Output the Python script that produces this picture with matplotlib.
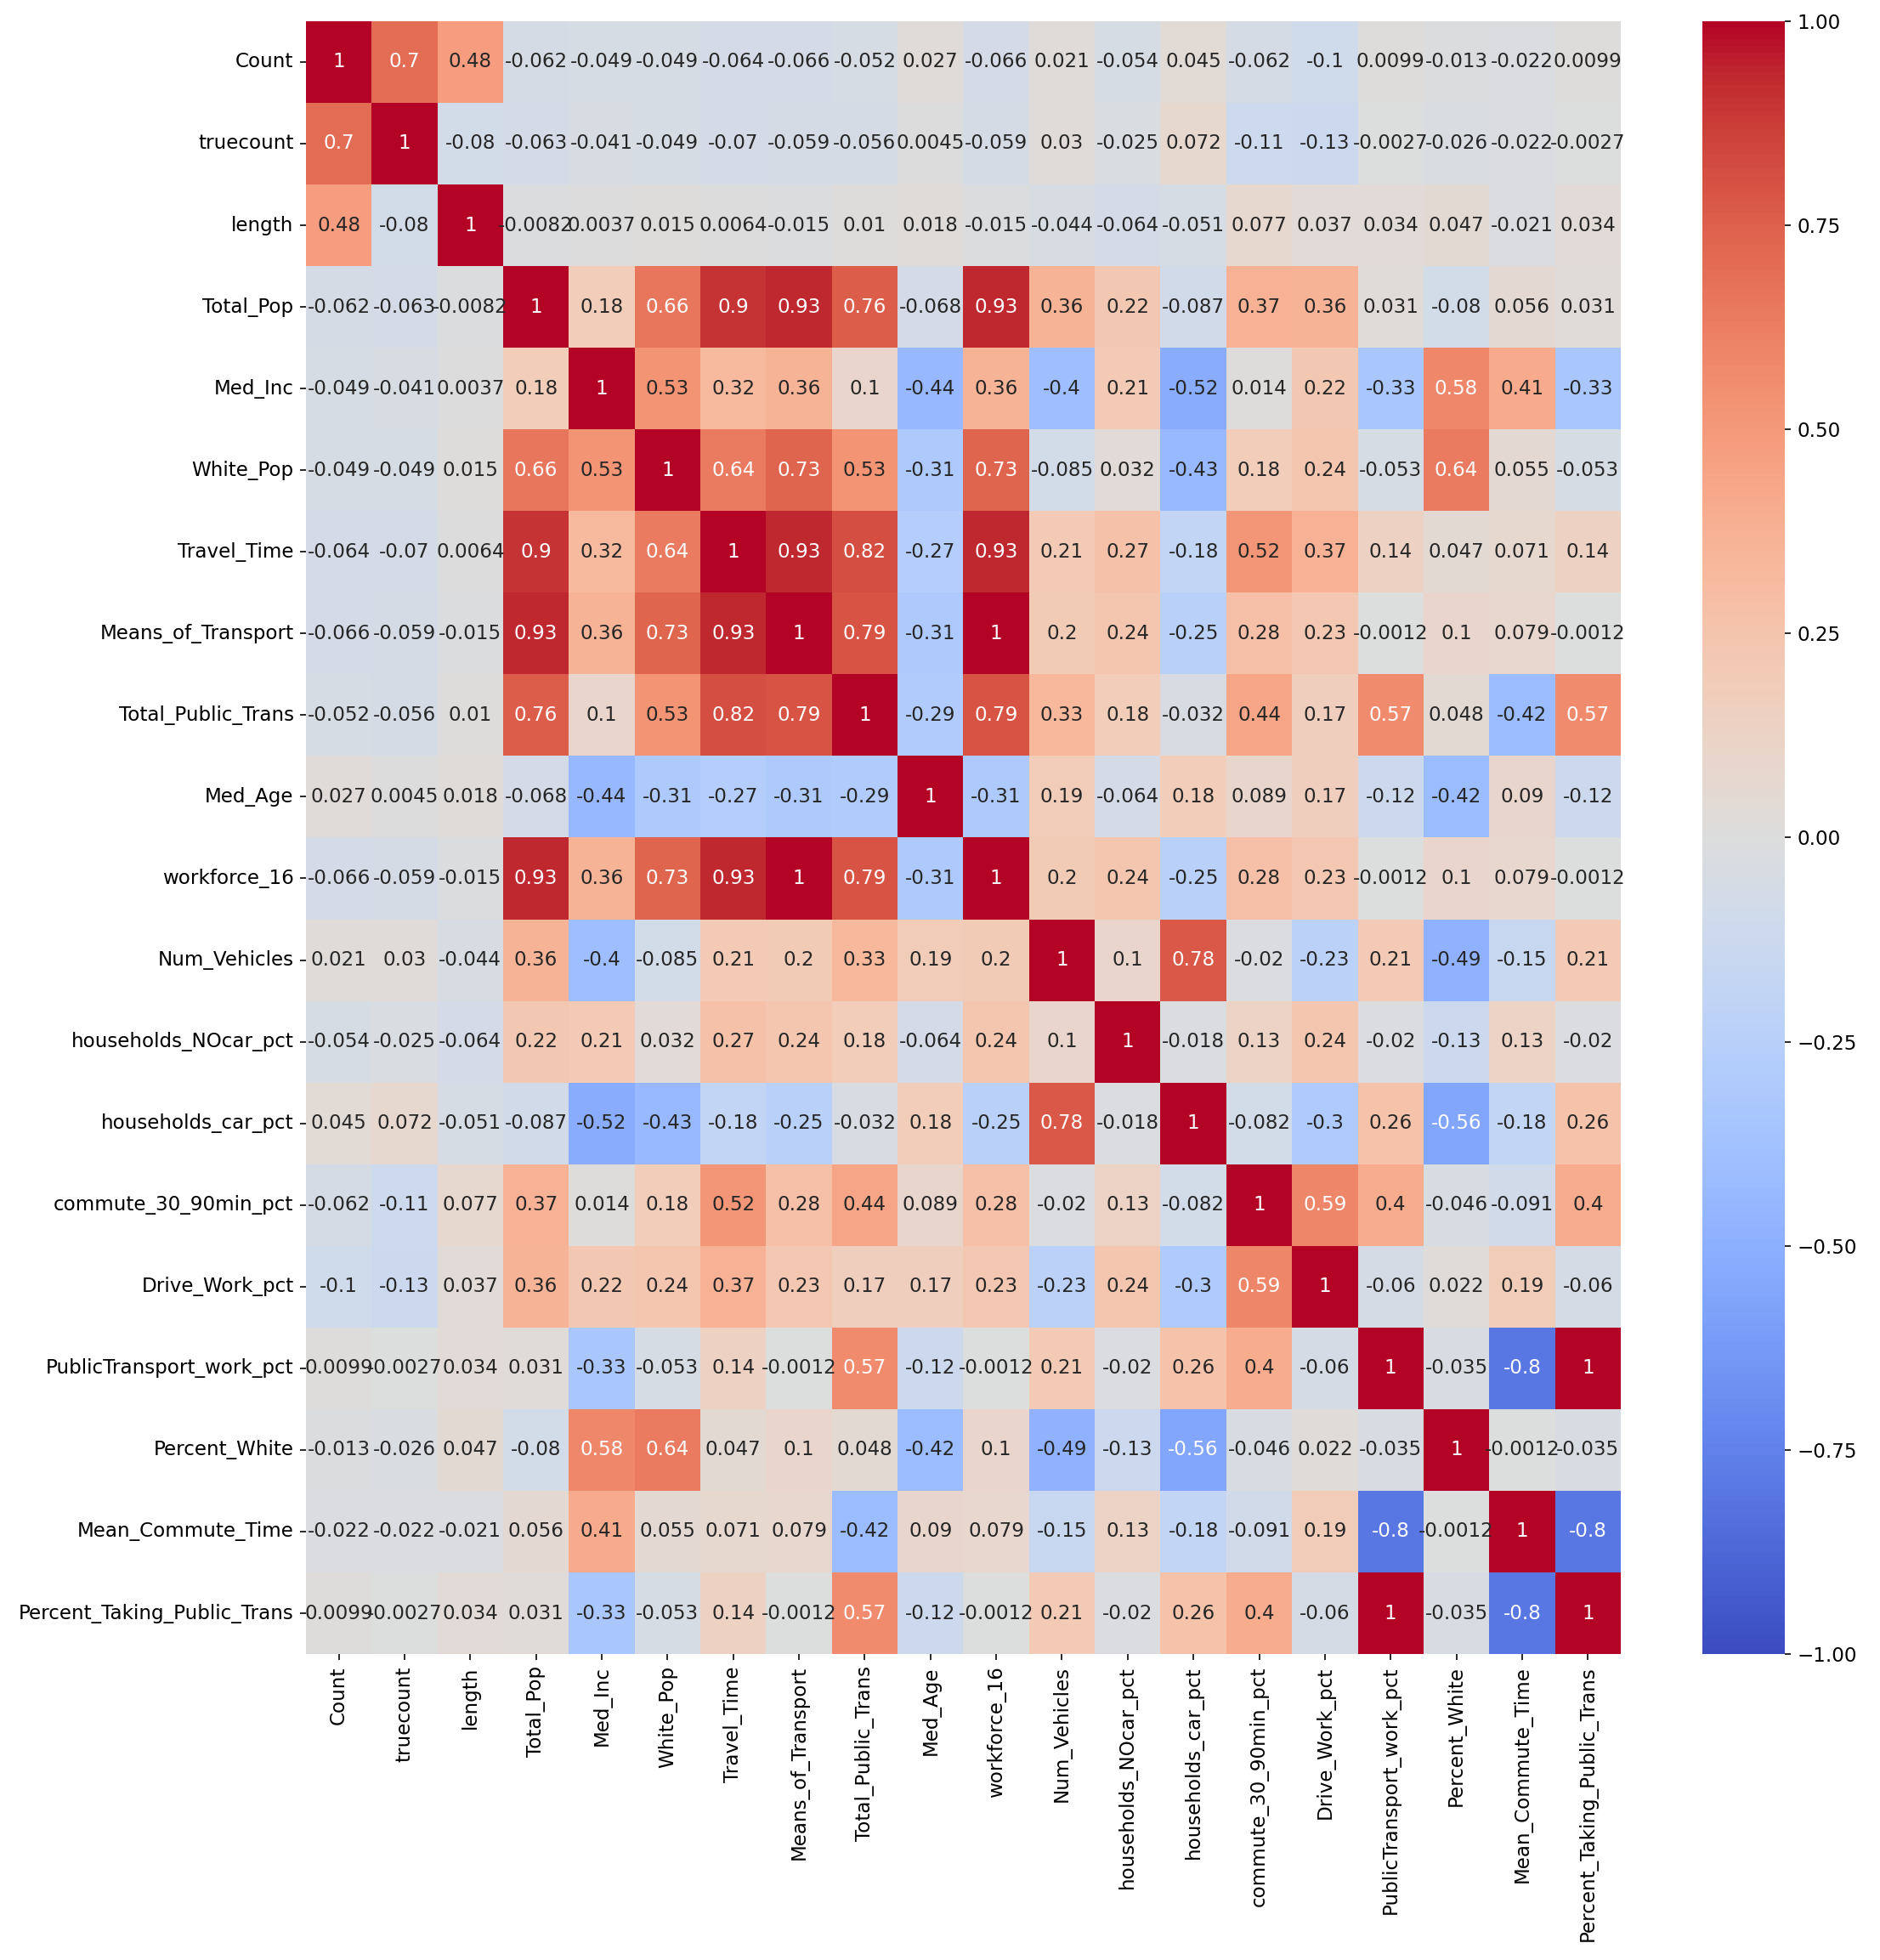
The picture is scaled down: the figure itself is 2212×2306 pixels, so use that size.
import matplotlib
matplotlib.use("Agg")
import matplotlib.pyplot as plt
import numpy as np
import pandas as pd
import seaborn as sns

labels = ["Count", "truecount", "length", "Total_Pop", "Med_Inc", "White_Pop",
          "Travel_Time", "Means_of_Transport", "Total_Public_Trans", "Med_Age",
          "workforce_16", "Num_Vehicles", "households_NOcar_pct",
          "households_car_pct", "commute_30_90min_pct", "Drive_Work_pct",
          "PublicTransport_work_pct", "Percent_White", "Mean_Commute_Time",
          "Percent_Taking_Public_Trans"]

count = [1, 0.7, 0.48, -0.062, -0.049, -0.049, -0.064, -0.066, -0.052, 0.027, -0.066, 0.021, -0.054, 0.045, -0.062, -0.1, 0.0099, -0.013, -0.022, 0.0099]
truecount = [0.7, 1, -0.08, -0.063, -0.041, -0.049, -0.07, -0.059, -0.056, 0.0045, -0.059, 0.03, -0.025, 0.072, -0.11, -0.13, -0.0027, -0.026, -0.022, -0.0027]
length = [0.48, -0.08, 1, -0.0082, 0.0037, 0.015, 0.0064, -0.015, 0.01, 0.018, -0.015, -0.044, -0.064, -0.051, 0.077, 0.037, 0.034, 0.047, -0.021, 0.034]
total_pop = [-0.062, -0.063, -0.0082, 1, 0.18, 0.66, 0.9, 0.93, 0.76, -0.068, 0.93, 0.36, 0.22, -0.087, 0.37, 0.36, 0.031, -0.08, 0.056, 0.031]
med_inc = [-0.049, -0.041, 0.0037, 0.18, 1, 0.53, 0.32, 0.36, 0.1, -0.44, 0.36, -0.4, 0.21, -0.52, 0.014, 0.22, -0.33, 0.58, 0.41, -0.33]
white_pop = [-0.049, -0.049, 0.015, 0.66, 0.53, 1, 0.64, 0.73, 0.53, -0.31, 0.73, -0.085, 0.032, -0.43, 0.18, 0.24, -0.053, 0.64, 0.055, -0.053]
travel_time = [-0.064, -0.07, 0.0064, 0.9, 0.32, 0.64, 1, 0.93, 0.82, -0.27, 0.93, 0.21, 0.27, -0.18, 0.52, 0.37, 0.14, 0.047, 0.071, 0.14]
means_transport = [-0.066, -0.059, -0.015, 0.93, 0.36, 0.73, 0.93, 1, 0.79, -0.31, 1, 0.2, 0.24, -0.25, 0.28, 0.23, -0.0012, 0.1, 0.079, -0.0012]
total_public = [-0.052, -0.056, 0.01, 0.76, 0.1, 0.53, 0.82, 0.79, 1, -0.29, 0.79, 0.33, 0.18, -0.032, 0.44, 0.17, 0.57, 0.048, -0.42, 0.57]
med_age = [0.027, 0.0045, 0.018, -0.068, -0.44, -0.31, -0.27, -0.31, -0.29, 1, -0.31, 0.19, -0.064, 0.18, 0.089, 0.17, -0.12, -0.42, 0.09, -0.12]
workforce = [-0.066, -0.059, -0.015, 0.93, 0.36, 0.73, 0.93, 1, 0.79, -0.31, 1, 0.2, 0.24, -0.25, 0.28, 0.23, -0.0012, 0.1, 0.079, -0.0012]
num_vehicles = [0.021, 0.03, -0.044, 0.36, -0.4, -0.085, 0.21, 0.2, 0.33, 0.19, 0.2, 1, 0.1, 0.78, -0.02, -0.23, 0.21, -0.49, -0.15, 0.21]
nocar = [-0.054, -0.025, -0.064, 0.22, 0.21, 0.032, 0.27, 0.24, 0.18, -0.064, 0.24, 0.1, 1, -0.018, 0.13, 0.24, -0.02, -0.13, 0.13, -0.02]
car = [0.045, 0.072, -0.051, -0.087, -0.52, -0.43, -0.18, -0.25, -0.032, 0.18, -0.25, 0.78, -0.018, 1, -0.082, -0.3, 0.26, -0.56, -0.18, 0.26]
commute = [-0.062, -0.11, 0.077, 0.37, 0.014, 0.18, 0.52, 0.28, 0.44, 0.089, 0.28, -0.02, 0.13, -0.082, 1, 0.59, 0.4, -0.046, -0.091, 0.4]
drive = [-0.1, -0.13, 0.037, 0.36, 0.22, 0.24, 0.37, 0.23, 0.17, 0.17, 0.23, -0.23, 0.24, -0.3, 0.59, 1, -0.06, 0.022, 0.19, -0.06]
pt_work = [0.0099, -0.0027, 0.034, 0.031, -0.33, -0.053, 0.14, -0.0012, 0.57, -0.12, -0.0012, 0.21, -0.02, 0.26, 0.4, -0.06, 1, -0.035, -0.8, 1]
pct_white = [-0.013, -0.026, 0.047, -0.08, 0.58, 0.64, 0.047, 0.1, 0.048, -0.42, 0.1, -0.49, -0.13, -0.56, -0.046, 0.022, -0.035, 1, -0.0012, -0.035]
mean_commute = [-0.022, -0.022, -0.021, 0.056, 0.41, 0.055, 0.071, 0.079, -0.42, 0.09, 0.079, -0.15, 0.13, -0.18, -0.091, 0.19, -0.8, -0.0012, 1, -0.8]
pct_taking = [0.0099, -0.0027, 0.034, 0.031, -0.33, -0.053, 0.14, -0.0012, 0.57, -0.12, -0.0012, 0.21, -0.02, 0.26, 0.4, -0.06, 1, -0.035, -0.8, 1]

rows = [count, truecount, length, total_pop, med_inc, white_pop, travel_time,
        means_transport, total_public, med_age, workforce, num_vehicles, nocar,
        car, commute, drive, pt_work, pct_white, mean_commute, pct_taking]

corr = pd.DataFrame(rows, index=labels, columns=labels)

plt.rcParams["font.size"] = 11.25

dpi = 147.5
fig = plt.figure(figsize=(2212 / dpi, 2306 / dpi), dpi=dpi)
ax = fig.add_axes([0.1627, 0.1561, 0.6994, 0.8331])
cax = fig.add_axes([0.9055, 0.1561, 0.0439, 0.8331])

sns.heatmap(corr, annot=True, cmap="coolwarm", vmin=-1, vmax=1, ax=ax, cbar_ax=cax)

fig.savefig("out.png", dpi=dpi)
